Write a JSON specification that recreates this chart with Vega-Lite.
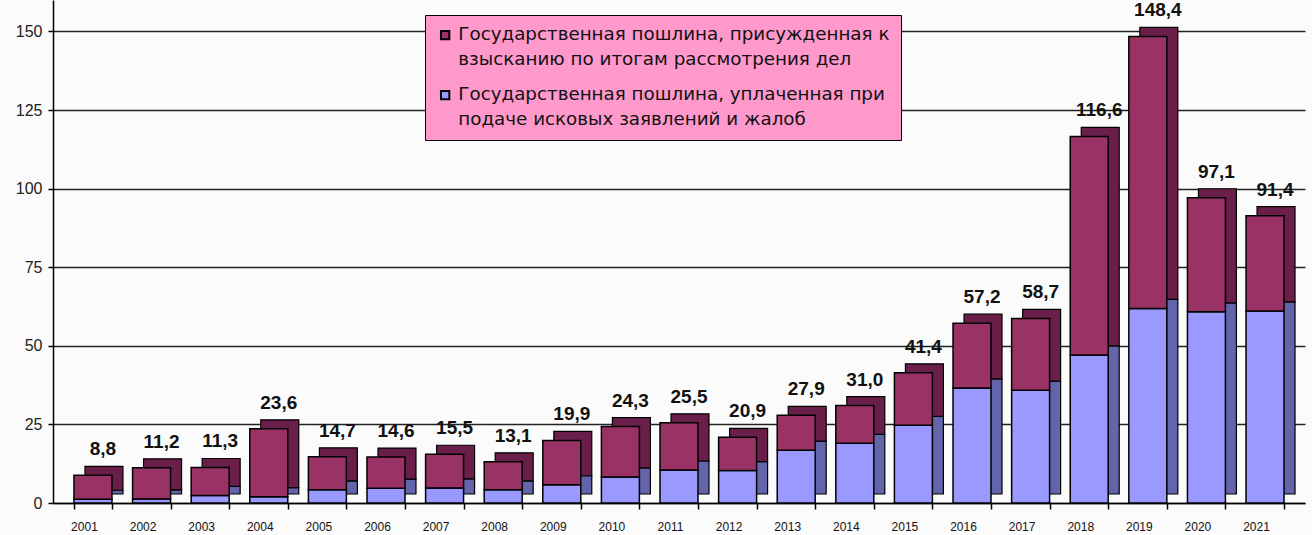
{
  "$schema": "https://vega.github.io/schema/vega-lite/v6.json",
  "width": 1252,
  "height": 503,
  "autosize": "none",
  "padding": {"left": 53, "top": 0, "right": 7, "bottom": 32},
  "background": "#fbfbfb",
  "config": {
    "view": {"stroke": null},
    "font": "Liberation Sans",
    "locale": {"number": {"decimal": ",", "thousands": " ", "grouping": [3], "currency": ["", ""]}},
    "style": {"guide-label": {"lineHeight": 25}},
    "legend": {
      "fillColor": "#ff99cc",
      "strokeColor": "#000000",
      "padding": 11,
      "labelFont": "DejaVu Sans",
      "labelFontSize": 18.3,
      "labelColor": "#111111",
      "labelLimit": 700,
      "labelOffset": 4,
      "symbolType": "square",
      "symbolSize": 70,
      "symbolStrokeColor": "#000000",
      "symbolStrokeWidth": 2,
      "rowPadding": 16
    }
  },
  "data": {
    "values": [
      {"year": "2001", "series": "Государственная пошлина, уплаченная при подаче исковых заявлений и жалоб", "value": 1.2},
      {"year": "2002", "series": "Государственная пошлина, уплаченная при подаче исковых заявлений и жалоб", "value": 1.3},
      {"year": "2003", "series": "Государственная пошлина, уплаченная при подаче исковых заявлений и жалоб", "value": 2.4},
      {"year": "2004", "series": "Государственная пошлина, уплаченная при подаче исковых заявлений и жалоб", "value": 2.0},
      {"year": "2005", "series": "Государственная пошлина, уплаченная при подаче исковых заявлений и жалоб", "value": 4.2},
      {"year": "2006", "series": "Государственная пошлина, уплаченная при подаче исковых заявлений и жалоб", "value": 4.7},
      {"year": "2007", "series": "Государственная пошлина, уплаченная при подаче исковых заявлений и жалоб", "value": 4.8},
      {"year": "2008", "series": "Государственная пошлина, уплаченная при подаче исковых заявлений и жалоб", "value": 4.2},
      {"year": "2009", "series": "Государственная пошлина, уплаченная при подаче исковых заявлений и жалоб", "value": 5.8},
      {"year": "2010", "series": "Государственная пошлина, уплаченная при подаче исковых заявлений и жалоб", "value": 8.3},
      {"year": "2011", "series": "Государственная пошлина, уплаченная при подаче исковых заявлений и жалоб", "value": 10.5},
      {"year": "2012", "series": "Государственная пошлина, уплаченная при подаче исковых заявлений и жалоб", "value": 10.3},
      {"year": "2013", "series": "Государственная пошлина, уплаченная при подаче исковых заявлений и жалоб", "value": 16.8},
      {"year": "2014", "series": "Государственная пошлина, уплаченная при подаче исковых заявлений и жалоб", "value": 19.0},
      {"year": "2015", "series": "Государственная пошлина, уплаченная при подаче исковых заявлений и жалоб", "value": 24.7},
      {"year": "2016", "series": "Государственная пошлина, уплаченная при подаче исковых заявлений и жалоб", "value": 36.6},
      {"year": "2017", "series": "Государственная пошлина, уплаченная при подаче исковых заявлений и жалоб", "value": 35.9},
      {"year": "2018", "series": "Государственная пошлина, уплаченная при подаче исковых заявлений и жалоб", "value": 47.1},
      {"year": "2019", "series": "Государственная пошлина, уплаченная при подаче исковых заявлений и жалоб", "value": 61.9},
      {"year": "2020", "series": "Государственная пошлина, уплаченная при подаче исковых заявлений и жалоб", "value": 60.8},
      {"year": "2021", "series": "Государственная пошлина, уплаченная при подаче исковых заявлений и жалоб", "value": 61.1},
      {"year": "2001", "series": "Государственная пошлина, присужденная к взысканию по итогам рассмотрения дел", "value": 7.6},
      {"year": "2002", "series": "Государственная пошлина, присужденная к взысканию по итогам рассмотрения дел", "value": 9.9},
      {"year": "2003", "series": "Государственная пошлина, присужденная к взысканию по итогам рассмотрения дел", "value": 8.9},
      {"year": "2004", "series": "Государственная пошлина, присужденная к взысканию по итогам рассмотрения дел", "value": 21.6},
      {"year": "2005", "series": "Государственная пошлина, присужденная к взысканию по итогам рассмотрения дел", "value": 10.5},
      {"year": "2006", "series": "Государственная пошлина, присужденная к взысканию по итогам рассмотрения дел", "value": 9.9},
      {"year": "2007", "series": "Государственная пошлина, присужденная к взысканию по итогам рассмотрения дел", "value": 10.7},
      {"year": "2008", "series": "Государственная пошлина, присужденная к взысканию по итогам рассмотрения дел", "value": 8.9},
      {"year": "2009", "series": "Государственная пошлина, присужденная к взысканию по итогам рассмотрения дел", "value": 14.1},
      {"year": "2010", "series": "Государственная пошлина, присужденная к взысканию по итогам рассмотрения дел", "value": 16.0},
      {"year": "2011", "series": "Государственная пошлина, присужденная к взысканию по итогам рассмотрения дел", "value": 15.0},
      {"year": "2012", "series": "Государственная пошлина, присужденная к взысканию по итогам рассмотрения дел", "value": 10.6},
      {"year": "2013", "series": "Государственная пошлина, присужденная к взысканию по итогам рассмотрения дел", "value": 11.1},
      {"year": "2014", "series": "Государственная пошлина, присужденная к взысканию по итогам рассмотрения дел", "value": 12.0},
      {"year": "2015", "series": "Государственная пошлина, присужденная к взысканию по итогам рассмотрения дел", "value": 16.7},
      {"year": "2016", "series": "Государственная пошлина, присужденная к взысканию по итогам рассмотрения дел", "value": 20.6},
      {"year": "2017", "series": "Государственная пошлина, присужденная к взысканию по итогам рассмотрения дел", "value": 22.8},
      {"year": "2018", "series": "Государственная пошлина, присужденная к взысканию по итогам рассмотрения дел", "value": 69.5},
      {"year": "2019", "series": "Государственная пошлина, присужденная к взысканию по итогам рассмотрения дел", "value": 86.5},
      {"year": "2020", "series": "Государственная пошлина, присужденная к взысканию по итогам рассмотрения дел", "value": 36.3},
      {"year": "2021", "series": "Государственная пошлина, присужденная к взысканию по итогам рассмотрения дел", "value": 30.3}
    ]
  },
  "encoding": {
    "x": {
      "field": "year",
      "type": "nominal",
      "sort": null,
      "scale": {"paddingInner": 0.352, "paddingOuter": 0.358},
      "axis": {
        "title": null,
        "labelAngle": 0,
        "labelFontSize": 12,
        "labelColor": "#111111",
        "labelOffset": -9,
        "labelPadding": 12,
        "tickBand": "extent",
        "tickColor": "#000000",
        "tickSize": 6,
        "tickWidth": 1.5,
        "domainColor": "#000000",
        "domainWidth": 1.5,
        "grid": false
      }
    }
  },
  "layer": [
    {
      "mark": {"type": "bar", "xOffset": 11, "yOffset": -9, "stroke": "#000000", "strokeWidth": 1.2},
      "encoding": {
        "y": {"field": "value", "type": "quantitative", "stack": "zero", "scale": {"domain": [0, 160]}},
        "color": {
          "field": "series",
          "type": "nominal",
          "scale": {"range": ["#6a1f4b", "#6464aa"]},
          "legend": null
        },
        "order": {"field": "series", "sort": "descending"}
      }
    },
    {
      "mark": {"type": "bar", "stroke": "#000000", "strokeWidth": 1.5},
      "encoding": {
        "y": {
          "field": "value",
          "type": "quantitative",
          "stack": "zero",
          "scale": {"domain": [0, 160]},
          "axis": {
            "title": null,
            "values": [0, 25, 50, 75, 100, 125, 150],
            "labelFontSize": 16,
            "labelColor": "#222222",
            "labelPadding": 6,
            "tickColor": "#000000",
            "tickSize": 5,
            "tickWidth": 1.5,
            "domainColor": "#000000",
            "domainWidth": 1.5,
            "grid": true,
            "gridColor": "#222222",
            "gridWidth": 1.5
          }
        },
        "color": {
          "field": "series",
          "type": "nominal",
          "scale": {"range": ["#993366", "#9999ff"]},
          "legend": {
            "title": null,
            "orient": "none",
            "legendX": 372,
            "legendY": 15,
            "labelExpr": "indexof(datum.label, 'присужденная') >= 0 ? ['Государственная пошлина, присужденная к', 'взысканию по итогам рассмотрения дел'] : ['Государственная пошлина, уплаченная при', 'подаче исковых заявлений и жалоб']"
          }
        },
        "order": {"field": "series", "sort": "descending"}
      }
    },
    {
      "mark": {"type": "text", "dx": 10, "dy": -20, "baseline": "alphabetic", "fontSize": 19, "fontWeight": "bold", "color": "#111111"},
      "encoding": {
        "y": {"aggregate": "sum", "field": "value", "type": "quantitative", "scale": {"domain": [0, 160]}},
        "text": {"aggregate": "sum", "field": "value", "type": "quantitative", "format": ".1f"}
      }
    }
  ],
  "resolve": {"scale": {"color": "independent"}}
}
